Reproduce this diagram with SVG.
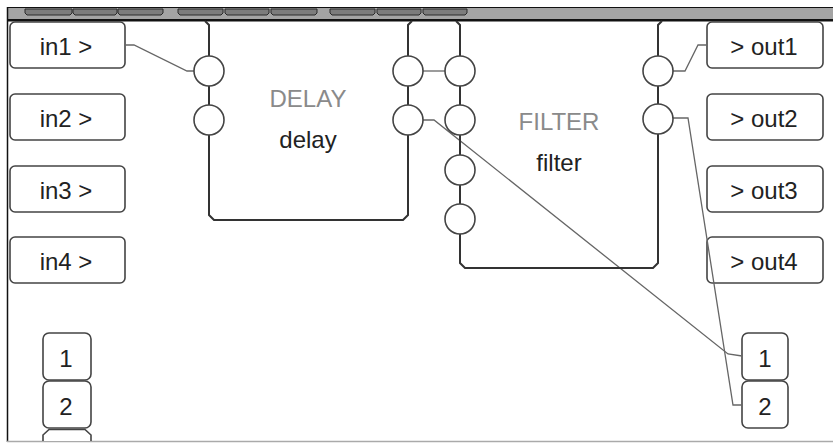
<svg xmlns="http://www.w3.org/2000/svg" width="833" height="443" viewBox="0 0 833 443">
<style>
.bx{fill:#fff;stroke:#444;stroke-width:1.6}
.nd{fill:none;stroke:#333;stroke-width:2}
.pt{fill:#fff;stroke:#444;stroke-width:1.6}
.cn{fill:none;stroke:#666;stroke-width:1.3}
.tx{font-family:"Liberation Sans",Arial,sans-serif;font-size:24px;fill:#222;text-anchor:middle}
.tg{fill:#8a8a8a}
.tab{fill:#7c7c7c;stroke:#2a2a2a;stroke-width:1}
</style>
<rect x="0" y="0" width="833" height="443" fill="#fff"/>
<g id="toolbar">
<rect x="7" y="7" width="826" height="13" fill="#a4a4a4"/>
<line x1="7" y1="7.5" x2="833" y2="7.5" stroke="#111" stroke-width="1"/>
<rect x="7" y="19" width="826" height="2.5" fill="#111"/>
<path class="tab" d="M25,9 H72 V13 L70,15 H27 L25,13 Z"/>
<path class="tab" d="M73,9 H117 V13 L115,15 H75 L73,13 Z"/>
<path class="tab" d="M118,9 H163 V13 L161,15 H120 L118,13 Z"/>
<path class="tab" d="M178,9 H223 V13 L221,15 H180 L178,13 Z"/>
<path class="tab" d="M225,9 H269 V13 L267,15 H227 L225,13 Z"/>
<path class="tab" d="M271,9 H317 V13 L315,15 H273 L271,13 Z"/>
<path class="tab" d="M330,9 H375 V13 L373,15 H332 L330,13 Z"/>
<path class="tab" d="M377,9 H421 V13 L419,15 H379 L377,13 Z"/>
<path class="tab" d="M423,9 H467 V13 L465,15 H425 L423,13 Z"/>
</g>
<g id="frame">
<line x1="7.5" y1="7" x2="7.5" y2="442" stroke="#111" stroke-width="1.5"/>
<line x1="7" y1="441.5" x2="833" y2="441.5" stroke="#aaa" stroke-width="1.5"/>
</g>
<g id="in1"><rect class="bx" x="10" y="22" width="115" height="46" rx="5"/><text class="tx" x="66" y="55">in1 &gt;</text></g>
<g id="in2"><rect class="bx" x="10" y="94" width="115" height="46" rx="5"/><text class="tx" x="66" y="127">in2 &gt;</text></g>
<g id="in3"><rect class="bx" x="10" y="166" width="115" height="46" rx="5"/><text class="tx" x="66" y="199">in3 &gt;</text></g>
<g id="in4"><rect class="bx" x="10" y="237" width="115" height="46" rx="5"/><text class="tx" x="66" y="270">in4 &gt;</text></g>
<g id="out1"><rect class="bx" x="707" y="22" width="116" height="46" rx="5"/><text class="tx" x="764" y="55">&gt; out1</text></g>
<g id="out2"><rect class="bx" x="707" y="94" width="116" height="46" rx="5"/><text class="tx" x="764" y="127">&gt; out2</text></g>
<g id="out3"><rect class="bx" x="707" y="166" width="116" height="46" rx="5"/><text class="tx" x="764" y="199">&gt; out3</text></g>
<g id="out4"><rect class="bx" x="707" y="237" width="116" height="46" rx="5"/><text class="tx" x="764" y="270">&gt; out4</text></g>
<g id="num-left-1"><rect class="bx" x="43" y="333" width="48" height="47" rx="6"/><text class="tx" x="66" y="367">1</text></g>
<g id="num-left-2"><rect class="bx" x="43" y="381" width="48" height="47" rx="6"/><text class="tx" x="66" y="415">2</text></g>
<g id="num-left-3"><path class="bx" d="M43,441 V435 L49,429.5 H85 L91,435 V441"/></g>
<g id="num-right-1"><rect class="bx" x="742" y="333" width="46" height="47" rx="6"/><text class="tx" x="765" y="367">1</text></g>
<g id="num-right-2"><rect class="bx" x="742" y="381" width="46" height="47" rx="6"/><text class="tx" x="765" y="415">2</text></g>
<g id="connectors">
<path class="cn" d="M125,45 L134,45 L187,71 L194,71"/>
<path class="cn" d="M423,71 L445,71"/>
<path class="cn" d="M423,120 L434,120 L728,354 L742,356"/>
<path class="cn" d="M673,71 L685,71 L698,45 L707,45"/>
<path class="cn" d="M673,118 L688,118 L733,405 L742,405"/>
</g>
<g id="delay">
<path class="nd" d="M205,21 L209,25 V215 L214,220 H403 L408,215 V25 L412,21"/>
<circle class="pt" cx="209" cy="71" r="15"/>
<circle class="pt" cx="209" cy="120" r="15"/>
<circle class="pt" cx="408" cy="71" r="15"/>
<circle class="pt" cx="408" cy="120" r="15"/>
<text class="tx tg" x="308" y="107">DELAY</text>
<text class="tx" x="308" y="148">delay</text>
</g>
<g id="filter">
<path class="nd" d="M456,21 L460,25 V263 L465,268 H653 L658,263 V25 L662,21"/>
<circle class="pt" cx="460" cy="71" r="15"/>
<circle class="pt" cx="460" cy="120" r="15"/>
<circle class="pt" cx="460" cy="170" r="15"/>
<circle class="pt" cx="460" cy="219" r="15"/>
<circle class="pt" cx="658" cy="71" r="15"/>
<circle class="pt" cx="658" cy="119" r="15"/>
<text class="tx tg" x="559" y="130">FILTER</text>
<text class="tx" x="559" y="171">filter</text>
</g>
</svg>
